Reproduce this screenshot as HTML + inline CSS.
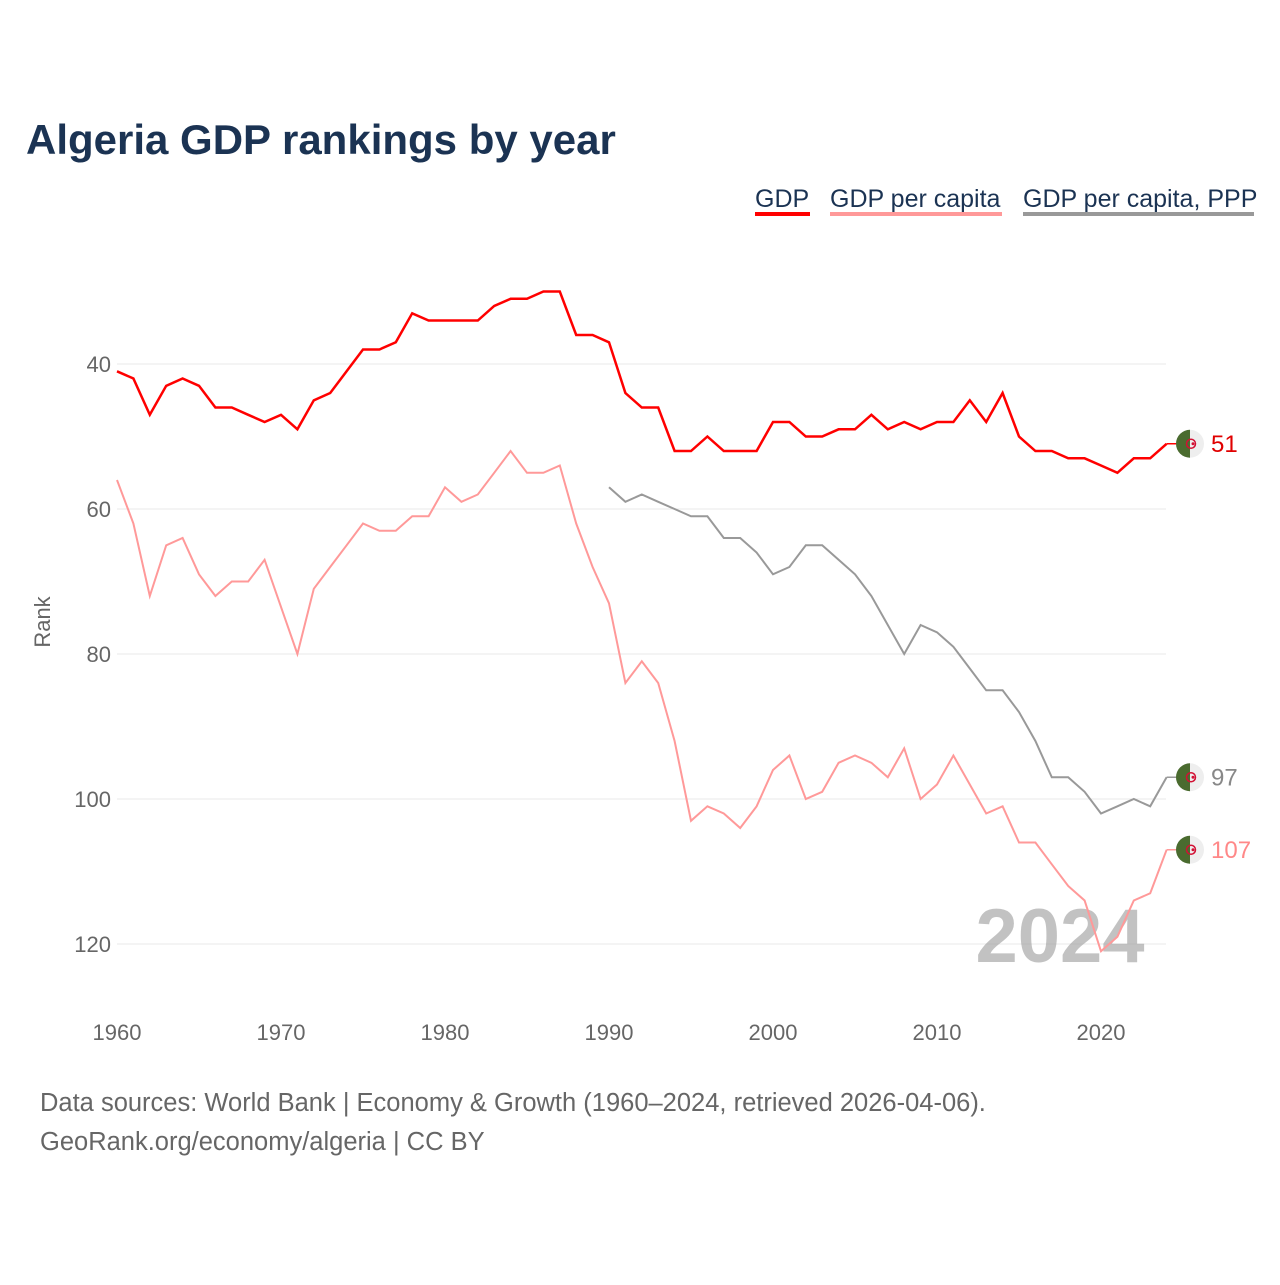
<!DOCTYPE html>
<html><head><meta charset="utf-8">
<style>
body{margin:0;background:#fff;}
svg text{font-family:"Liberation Sans",sans-serif;}
</style></head>
<body>
<svg width="1280" height="1280" viewBox="0 0 1280 1280" xmlns="http://www.w3.org/2000/svg">
<text x="26" y="154" font-size="42" font-weight="bold" fill="#1b3353">Algeria GDP rankings by year</text>
<g>
 <g><text x="755" y="207" font-size="25" fill="#1b3353">GDP</text><rect x="755" y="212" width="55" height="4" fill="#ff0000"/></g>
 <g><text x="830" y="207" font-size="25" fill="#1b3353">GDP per capita</text><rect x="830" y="212" width="172" height="4" fill="#ff9999"/></g>
 <g><text x="1023" y="207" font-size="25" fill="#1b3353">GDP per capita, PPP</text><rect x="1023" y="212" width="231" height="4" fill="#999"/></g>
</g>
<text transform="translate(50,622) rotate(-90)" text-anchor="middle" font-size="22" fill="#666">Rank</text>
<g id="grid"></g>
<text x="1060" y="962" text-anchor="middle" font-size="76" font-weight="bold" fill="#999" fill-opacity="0.6">2024</text>
<g id="lines"></g>
<g id="ends"></g>
<text x="40" y="1111" font-size="25.5" fill="#666">Data sources: World Bank | Economy &amp; Growth (1960–2024, retrieved 2026-04-06).</text>
<text x="40" y="1150" font-size="25.5" fill="#666">GeoRank.org/economy/algeria | CC BY</text>
</svg>
<script>
const yTicks=[40,60,80,100,120];
const xTicks=[1960,1970,1980,1990,2000,2010,2020];
const gdpYears0=1960;
const gdpRank=[41,42,47,43,42,43,46,46,47,48,47,49,45,44,41,38,38,37,33,34,34,34,34,32,31,31,30,30,36,36,37,44,46,46,52,52,50,52,52,52,48,48,50,50,49,49,47,49,48,49,48,48,45,48,44,50,52,52,53,53,54,55,53,53,51];
const pcRank=[56,62,72,65,64,69,72,70,70,67,73.5,80,71,68,65,62,63,63,61,61,57,59,58,55,52,55,55,54,62,68,73,84,81,84,92,103,101,102,104,101,96,94,100,99,95,94,95,97,93,100,98,94,98,102,101,106,106,109,112,114,121,119,114,113,107];
const pppYears0=1990;
const pppRank=[57,59,58,59,60,61,61,64,64,66,69,68,65,65,67,69,72,76,80,76,77,79,82,85,85,88,92,97,97,99,102,101,100,101,97];
const NS="http://www.w3.org/2000/svg";
const xs=y=>117+(y-1960)*(984/60);
const ys=r=>364+(r-40)*7.25;
const grid=document.getElementById('grid');
function mk(tag,attrs,parent){const e=document.createElementNS(NS,tag);for(const k in attrs)e.setAttribute(k,attrs[k]);parent.appendChild(e);return e;}
yTicks.forEach(t=>{
 const l=mk('line',{x1:117,x2:1166,y1:ys(t),y2:ys(t),stroke:'#e8e8e8','stroke-width':1},grid);
 
 
 const tx=mk('text',{x:111,y:ys(t)+8,'text-anchor':'end','font-size':22,fill:'#666'},grid);
 tx.textContent=t;
 
 
});
xTicks.forEach(t=>{
 const tx=mk('text',{x:xs(t),y:1040,'text-anchor':'middle','font-size':22,fill:'#666'},grid);
 tx.textContent=t;
 
 
});
const lines=document.getElementById('lines');
const ends=document.getElementById('ends');
function series(vals,y0,color,w,name,lab){
 const pts=vals.map((v,i)=>xs(y0+i).toFixed(1)+','+ys(v).toFixed(1)).join(' ');
 const pl=mk('polyline',{points:pts,fill:'none',stroke:color,'stroke-width':w,'stroke-linejoin':'miter'},lines);
 
 
 const last=vals[vals.length-1],lx=xs(y0+vals.length-1),ly=ys(last);
 mk('line',{x1:lx,x2:1180,y1:ly,y2:ly,stroke:color,'stroke-width':1.5},ends);
 const g=mk('g',{},ends);
 
 
 mk('circle',{cx:1190,cy:ly,r:14,fill:'#eeeeee'},g);
 mk('path',{d:`M1190 ${ly-14} A14 14 0 0 0 1190 ${ly+14} Z`,fill:'#4a6b2f'},g);
 mk('circle',{cx:1191,cy:ly,r:4.5,fill:'none',stroke:'#d21034','stroke-width':1.5},g);
 mk('circle',{cx:1193,cy:ly,r:1.5,fill:'#d21034'},g);
 const t=mk('text',{x:1211,y:ly+8,'font-size':24,fill:lab},ends);
 t.textContent=last;
 
 
}
series(pcRank,gdpYears0,'#ff9999',2,'gdp-per-capita','#ff8888');
series(pppRank,pppYears0,'#999999',2,'gdp-per-capita-ppp','#888');
series(gdpRank,gdpYears0,'#ff0000',2.5,'gdp','#e00000');
</script>
</body></html>
